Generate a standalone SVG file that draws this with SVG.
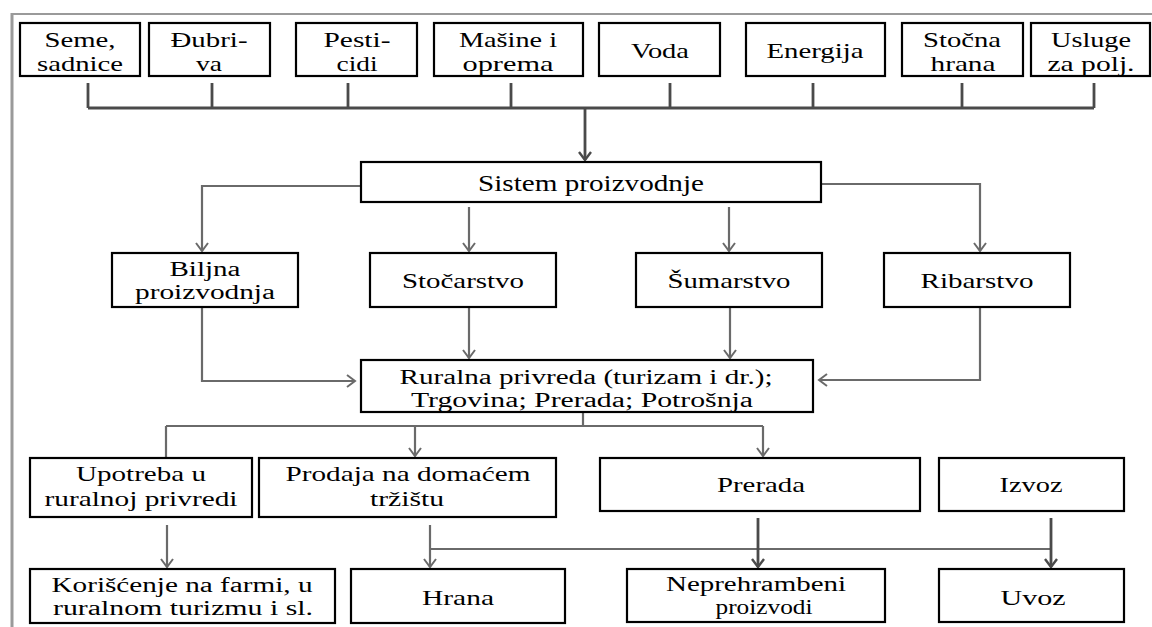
<svg xmlns="http://www.w3.org/2000/svg" width="1152" height="627" viewBox="0 0 1152 627">
<style>
.box{fill:#fff;stroke:#000;stroke-width:2.2}
.t{font-family:"Liberation Serif","Times New Roman",serif;font-size:22px;fill:#000;text-anchor:middle}
.s{font-size:20px}
.c{fill:none;stroke:#6a6a6a;stroke-width:2.2}
.ct{fill:none;stroke:#4a4a4a;stroke-width:2.8}
.frame{fill:none;stroke:#9a9a9a}
</style>
<defs>
<marker id="ah" viewBox="-10 -7 12 14" markerWidth="12" markerHeight="14" refX="0" refY="0" orient="auto" markerUnits="userSpaceOnUse">
<path d="M-8,-6 L0,0 L-8,6" fill="none" stroke="#6a6a6a" stroke-width="2"/>
</marker>
<marker id="ahd" viewBox="-10 -7 12 14" markerWidth="12" markerHeight="14" refX="0" refY="0" orient="auto" markerUnits="userSpaceOnUse">
<path d="M-8,-6 L0,0 L-8,6" fill="none" stroke="#4a4a4a" stroke-width="2.4"/>
</marker>
</defs>
<rect width="1152" height="627" fill="#fff"/>
<g id="frame">
<line class="frame" x1="12" y1="14" x2="1152" y2="14" stroke-width="2"/>
<line class="frame" x1="12" y1="13" x2="12" y2="627" stroke-width="3"/>
</g>
<g id="connectors">
<path class="ct" d="M88,83 V108 M212,83 V108 M348,83 V108 M511,83 V108 M670,83 V108 M813,83 V108 M962,83 V108 M1094,83 V108 M88,108 H1094"/>
<path class="ct" d="M585,108 V160" marker-end="url(#ahd)"/>
<path class="c" d="M361,186 H202 V251" marker-end="url(#ah)"/>
<path class="c" d="M821,184 H980 V251" marker-end="url(#ah)"/>
<path class="c" d="M469,207 V251" marker-end="url(#ah)"/>
<path class="c" d="M729,207 V251" marker-end="url(#ah)"/>
<path class="c" d="M202,307 V381 H355" marker-end="url(#ah)"/>
<path class="c" d="M469,307 V358" marker-end="url(#ah)"/>
<path class="c" d="M730,307 V358" marker-end="url(#ah)"/>
<path class="c" d="M980,307 V380 H819" marker-end="url(#ah)"/>
<path class="c" d="M583,412 V426 M166,426 H763 M166,426 V458"/>
<path class="c" d="M415,426 V456" marker-end="url(#ah)"/>
<path class="c" d="M763,426 V456" marker-end="url(#ah)"/>
<path class="c" d="M167,525 V567" marker-end="url(#ah)"/>
<path class="c" d="M430,525 V567" marker-end="url(#ah)"/>
<path class="c" d="M430,549 H1051"/>
<path class="ct" d="M758,518 V567" marker-end="url(#ahd)"/>
<path class="ct" d="M1051,518 V567" marker-end="url(#ahd)"/>
</g>
<g id="seme"><rect class="box" x="20" y="23" width="120" height="53"/><text class="t" x="80" y="47" textLength="71" lengthAdjust="spacingAndGlyphs">Seme,</text><text class="t" x="80" y="71" textLength="86" lengthAdjust="spacingAndGlyphs">sadnice</text></g>
<g id="djubriva"><rect class="box" x="149" y="23" width="121" height="53"/><text class="t" x="209" y="47" textLength="77" lengthAdjust="spacingAndGlyphs">Đubri-</text><text class="t" x="209" y="71" textLength="26" lengthAdjust="spacingAndGlyphs">va</text></g>
<g id="pesticidi"><rect class="box" x="296" y="23" width="121" height="53"/><text class="t" x="357" y="47" textLength="67" lengthAdjust="spacingAndGlyphs">Pesti-</text><text class="t" x="357" y="71" textLength="41" lengthAdjust="spacingAndGlyphs">cidi</text></g>
<g id="masine"><rect class="box" x="434" y="23" width="149" height="53"/><text class="t" x="508" y="47" textLength="98" lengthAdjust="spacingAndGlyphs">Mašine i</text><text class="t" x="508" y="71" textLength="91" lengthAdjust="spacingAndGlyphs">oprema</text></g>
<g id="voda"><rect class="box" x="599" y="23" width="121" height="53"/><text class="t" x="660" y="58" textLength="58" lengthAdjust="spacingAndGlyphs">Voda</text></g>
<g id="energija"><rect class="box" x="746" y="23" width="139" height="53"/><text class="t" x="815" y="58" textLength="97" lengthAdjust="spacingAndGlyphs">Energija</text></g>
<g id="stocna"><rect class="box" x="902" y="23" width="121" height="53"/><text class="t" x="962" y="47" textLength="78" lengthAdjust="spacingAndGlyphs">Stočna</text><text class="t" x="963" y="71" textLength="65" lengthAdjust="spacingAndGlyphs">hrana</text></g>
<g id="usluge"><rect class="box" x="1031" y="23" width="119" height="53"/><text class="t" x="1091" y="47" textLength="80" lengthAdjust="spacingAndGlyphs">Usluge</text><text class="t" x="1091" y="71" textLength="87" lengthAdjust="spacingAndGlyphs">za polj.</text></g>
<g id="sistem"><rect class="box" x="361" y="162" width="460" height="40"/><text class="t" x="591" y="191" style="font-size:23px" textLength="226" lengthAdjust="spacingAndGlyphs">Sistem proizvodnje</text></g>
<g id="biljna"><rect class="box" x="112" y="253" width="186" height="54"/><text class="t s" x="205" y="276" textLength="71" lengthAdjust="spacingAndGlyphs">Biljna</text><text class="t s" x="205" y="299" textLength="140" lengthAdjust="spacingAndGlyphs">proizvodnja</text></g>
<g id="stocarstvo"><rect class="box" x="370" y="253" width="186" height="54"/><text class="t" x="463" y="288" textLength="122" lengthAdjust="spacingAndGlyphs">Stočarstvo</text></g>
<g id="sumarstvo"><rect class="box" x="636" y="253" width="186" height="54"/><text class="t" x="729" y="288" textLength="123" lengthAdjust="spacingAndGlyphs">Šumarstvo</text></g>
<g id="ribarstvo"><rect class="box" x="884" y="253" width="186" height="54"/><text class="t" x="977" y="288" textLength="113" lengthAdjust="spacingAndGlyphs">Ribarstvo</text></g>
<g id="ruralna"><rect class="box" x="361" y="360" width="452" height="52"/><text class="t s" x="586" y="384" textLength="373" lengthAdjust="spacingAndGlyphs">Ruralna privreda (turizam i dr.);</text><text class="t s" x="582" y="407" textLength="342" lengthAdjust="spacingAndGlyphs">Trgovina; Prerada; Potrošnja</text></g>
<g id="upotreba"><rect class="box" x="30" y="458" width="222" height="59"/><text class="t" x="141" y="481" textLength="130" lengthAdjust="spacingAndGlyphs">Upotreba u</text><text class="t" x="141" y="506" textLength="193" lengthAdjust="spacingAndGlyphs">ruralnoj privredi</text></g>
<g id="prodaja"><rect class="box" x="259" y="458" width="297" height="59"/><text class="t" x="408" y="481" textLength="245" lengthAdjust="spacingAndGlyphs">Prodaja na domaćem</text><text class="t" x="407" y="506" textLength="74" lengthAdjust="spacingAndGlyphs">tržištu</text></g>
<g id="prerada"><rect class="box" x="600" y="458" width="320" height="53"/><text class="t" x="761" y="492" textLength="88" lengthAdjust="spacingAndGlyphs">Prerada</text></g>
<g id="izvoz"><rect class="box" x="939" y="458" width="185" height="53"/><text class="t" x="1031" y="492" textLength="63" lengthAdjust="spacingAndGlyphs">Izvoz</text></g>
<g id="koriscenje"><rect class="box" x="30" y="569" width="305" height="54"/><text class="t s" x="182" y="592" textLength="261" lengthAdjust="spacingAndGlyphs">Korišćenje na farmi, u</text><text class="t s" x="183" y="615" textLength="260" lengthAdjust="spacingAndGlyphs">ruralnom turizmu i sl.</text></g>
<g id="hrana"><rect class="box" x="351" y="569" width="214" height="54"/><text class="t" x="458" y="605" textLength="72" lengthAdjust="spacingAndGlyphs">Hrana</text></g>
<g id="neprehrambeni"><rect class="box" x="627" y="569" width="258" height="53"/><text class="t s" x="756" y="591" textLength="180" lengthAdjust="spacingAndGlyphs">Neprehrambeni</text><text class="t s" x="764" y="614" textLength="97" lengthAdjust="spacingAndGlyphs">proizvodi</text></g>
<g id="uvoz"><rect class="box" x="939" y="569" width="185" height="53"/><text class="t" x="1033" y="605" textLength="65" lengthAdjust="spacingAndGlyphs">Uvoz</text></g>
</svg>
